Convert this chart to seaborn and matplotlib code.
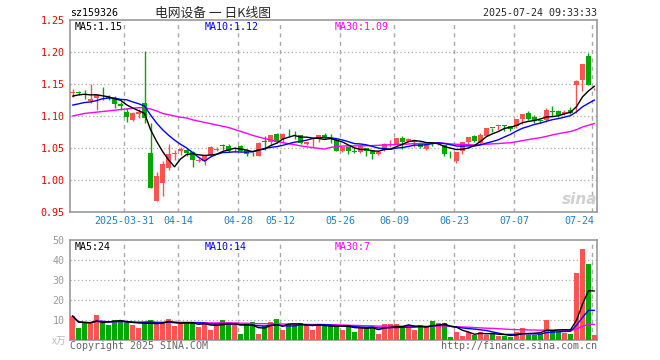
import numpy as np
import pandas as pd
import matplotlib
matplotlib.use('Agg')
import matplotlib.pyplot as plt
import seaborn as sns

# daily candles, 2025-03-18 .. 2025-07-24 (88 trading days)
opens = [1.136, 1.137, 1.135, 1.124, 1.128, 1.130, 1.130, 1.127, 1.118, 1.107,
         1.094, 1.103, 1.121, 1.042, 0.967, 0.996, 1.019, 1.040, 1.046, 1.047,
         1.044, 1.030, 1.029, 1.039, 1.047, 1.054, 1.053, 1.048, 1.053, 1.047,
         1.041, 1.038, 1.060, 1.059, 1.072, 1.064, 1.074, 1.074, 1.071, 1.056,
         1.064, 1.066, 1.070, 1.066, 1.062, 1.045, 1.051, 1.046, 1.043, 1.050,
         1.046, 1.040, 1.047, 1.055, 1.056, 1.066, 1.061, 1.060, 1.056, 1.049,
         1.058, 1.056, 1.055, 1.041, 1.029, 1.045, 1.059, 1.069, 1.058, 1.069,
         1.082, 1.084, 1.086, 1.085, 1.085, 1.095, 1.104, 1.099, 1.093, 1.094,
         1.108, 1.108, 1.103, 1.109, 1.148, 1.157, 1.193, 1.143]
highs = [1.142, 1.139, 1.141, 1.150, 1.135, 1.146, 1.133, 1.132, 1.122, 1.112,
         1.107, 1.111, 1.201, 1.089, 1.012, 1.029, 1.057, 1.047, 1.052, 1.050,
         1.045, 1.034, 1.038, 1.053, 1.052, 1.057, 1.057, 1.051, 1.054, 1.048,
         1.044, 1.059, 1.069, 1.071, 1.073, 1.074, 1.079, 1.076, 1.071, 1.060,
         1.066, 1.070, 1.074, 1.072, 1.064, 1.052, 1.051, 1.051, 1.056, 1.050,
         1.047, 1.045, 1.058, 1.063, 1.066, 1.068, 1.065, 1.064, 1.060, 1.056,
         1.059, 1.059, 1.055, 1.046, 1.044, 1.060, 1.067, 1.071, 1.073, 1.082,
         1.082, 1.086, 1.086, 1.085, 1.095, 1.103, 1.108, 1.101, 1.094, 1.112,
         1.115, 1.109, 1.109, 1.114, 1.156, 1.182, 1.199, 1.144]
lows = [1.130, 1.133, 1.126, 1.121, 1.110, 1.125, 1.125, 1.112, 1.109, 1.091,
        1.092, 1.097, 1.089, 0.987, 0.967, 0.975, 1.016, 1.032, 1.039, 1.037,
        1.020, 1.028, 1.024, 1.038, 1.045, 1.047, 1.044, 1.044, 1.045, 1.037,
        1.037, 1.037, 1.047, 1.055, 1.058, 1.058, 1.068, 1.064, 1.056, 1.055,
        1.052, 1.060, 1.064, 1.058, 1.045, 1.043, 1.041, 1.042, 1.042, 1.038,
        1.033, 1.039, 1.046, 1.052, 1.056, 1.048, 1.060, 1.052, 1.050, 1.047,
        1.053, 1.054, 1.037, 1.034, 1.026, 1.041, 1.056, 1.060, 1.055, 1.069,
        1.075, 1.078, 1.077, 1.076, 1.082, 1.087, 1.094, 1.089, 1.089, 1.091,
        1.100, 1.099, 1.102, 1.103, 1.104, 1.139, 1.148, 1.141]
closes = [1.137, 1.136, 1.133, 1.127, 1.133, 1.129, 1.128, 1.118, 1.115, 1.098,
          1.104, 1.107, 1.097, 0.988, 1.007, 1.025, 1.041, 1.042, 1.049, 1.042,
          1.032, 1.032, 1.037, 1.052, 1.048, 1.053, 1.046, 1.049, 1.046, 1.040,
          1.040, 1.058, 1.059, 1.071, 1.059, 1.072, 1.073, 1.073, 1.058, 1.059,
          1.065, 1.070, 1.065, 1.065, 1.046, 1.051, 1.046, 1.043, 1.053, 1.045,
          1.041, 1.043, 1.056, 1.056, 1.065, 1.059, 1.064, 1.063, 1.052, 1.054,
          1.057, 1.057, 1.041, 1.040, 1.043, 1.059, 1.067, 1.061, 1.071, 1.081,
          1.081, 1.085, 1.085, 1.080, 1.095, 1.103, 1.095, 1.092, 1.092, 1.110,
          1.106, 1.102, 1.107, 1.104, 1.154, 1.182, 1.149, 1.144]
volumes = [12.0, 6.0, 8.3, 8.3, 12.5, 8.7, 7.5, 10.0, 10.0, 9.2,
           7.5, 6.0, 9.2, 10.0, 8.3, 8.5, 10.5, 7.0, 8.3, 9.0,
           8.3, 6.7, 8.3, 5.2, 8.0, 10.0, 9.0, 8.0, 3.0, 8.0,
           8.8, 3.0, 7.0, 9.0, 10.5, 5.0, 8.0, 8.0, 8.5, 7.7,
           5.0, 8.0, 7.0, 7.0, 7.5, 5.0, 7.5, 4.0, 6.3, 6.3,
           6.3, 3.0, 8.0, 8.0, 8.0, 6.3, 7.5, 5.0, 7.5, 6.3,
           9.7, 8.3, 8.3, 1.7, 4.0, 2.0, 4.0, 2.7, 4.0, 2.7,
           3.0, 2.0, 2.0, 1.7, 4.0, 6.0, 2.5, 2.7, 3.0, 10.2,
           5.0, 4.2, 3.3, 2.8, 33.7, 45.5, 38.0, 2.5]

# moving-average values at the left edge (window reaches before the chart)
ma5_head = [1.131, 1.133, 1.134, 1.133]
ma10_head = [1.117, 1.119, 1.121, 1.122, 1.124, 1.127, 1.128, 1.128, 1.126]
ma30_head = [1.100, 1.102, 1.104, 1.105, 1.106, 1.107, 1.108, 1.109, 1.110, 1.111,
             1.112, 1.113, 1.113, 1.111, 1.108, 1.104, 1.102, 1.100, 1.098, 1.097,
             1.094, 1.092, 1.090, 1.088, 1.086, 1.084, 1.082, 1.079, 1.076]

tick_pos = [9, 18, 28, 35, 45, 54, 64, 74, 87]
tick_labels = ['2025-03-31', '04-14', '04-28', '05-12', '05-26', '06-09',
               '06-23', '07-07', '07-24']
price_ticks = [0.95, 1.00, 1.05, 1.10, 1.15, 1.20, 1.25]
vol_ticks = [10, 20, 30, 40, 50]
price_ma_text = ['MA5:1.15', 'MA10:1.12', 'MA30:1.09']
vol_ma_text = ['MA5:24', 'MA10:14', 'MA30:7']

RED = '#ff5252'
GREEN = '#00a800'
GRID = '#aaaaaa'
FRAME = '#999999'
MONO = 'DejaVu Sans Mono'

df = pd.DataFrame({'open': opens, 'high': highs, 'low': lows,
                   'close': closes, 'vol': volumes})
df['i'] = np.arange(len(df))
df['up'] = df['close'] >= df['open']

ma5 = df['close'].rolling(5).mean()
ma5[:len(ma5_head)] = ma5_head
ma10 = df['close'].rolling(10).mean()
ma10[:len(ma10_head)] = ma10_head
ma30 = df['close'].rolling(30).mean()
ma30[:len(ma30_head)] = ma30_head
vma5 = df['vol'].rolling(5, min_periods=1).mean()
vma10 = df['vol'].rolling(10, min_periods=1).mean()
vma30 = df['vol'].rolling(30, min_periods=1).mean()

sns.set_style('white')
plt.rcParams['font.family'] = [MONO, 'Noto Sans CJK SC']

fig = plt.figure(figsize=(6.6, 3.6), dpi=100)
ax1 = fig.add_axes([70 / 660, 1 - 212 / 360, 527 / 660, 192 / 360])
ax2 = fig.add_axes([70 / 660, 1 - 340 / 360, 527 / 660, 100 / 360])
xlim = (-0.42, 87.42)

# candles
cols = np.where(df['up'], RED, GREEN)
ax1.vlines(df['i'], df['low'], df['high'], colors=cols, lw=1, zorder=3)
body_lo = np.minimum(df['open'], df['close'])
body_h = np.maximum(np.abs(df['close'] - df['open']), 0.0012)
ax1.bar(df['i'], body_h, bottom=body_lo, width=0.8, color=cols, lw=0, zorder=4)

sns.lineplot(x=df['i'], y=ma30, ax=ax1, color='#ff00ff', lw=1, zorder=5)
sns.lineplot(x=df['i'], y=ma10, ax=ax1, color='#0000ff', lw=1, zorder=5)
sns.lineplot(x=df['i'], y=ma5, ax=ax1, color='black', lw=1, zorder=6)

ax1.set_xlim(*xlim)
ax1.set_ylim(0.95, 1.25)
for p in price_ticks[1:-1]:
    ax1.axhline(p, color=GRID, lw=0.9, ls=(0, (1, 2)), zorder=1)
ax1.set_yticks(price_ticks)
ax1.set_yticklabels(['%.2f' % p for p in price_ticks], color='#ee0000',
                    fontsize=7.2, family=MONO)

# volume
ax2.bar(df['i'], df['vol'], width=0.82, color=cols, lw=0, zorder=3)
sns.lineplot(x=df['i'], y=vma30, ax=ax2, color='#ff00ff', lw=1, zorder=5)
sns.lineplot(x=df['i'], y=vma10, ax=ax2, color='#0000ff', lw=1, zorder=5)
sns.lineplot(x=df['i'], y=vma5, ax=ax2, color='black', lw=1, zorder=6)
ax2.set_xlim(*xlim)
ax2.set_ylim(0, 50)
for v in vol_ticks[:-1]:
    ax2.axhline(v, color=GRID, lw=0.9, ls=(0, (1, 2)), zorder=1)
ax2.set_yticks(vol_ticks)
ax2.set_yticklabels([str(v) for v in vol_ticks], color='#999999',
                    fontsize=7.2, family=MONO)

for ax in (ax1, ax2):
    for t in tick_pos[:-1]:
        ax.axvline(t - 0.35, color=GRID, lw=1, ls=(0, (3, 3)), zorder=1)
    ax.axvline(tick_pos[-1] - 0.35, color=GRID, lw=1, ls=(0, (3, 3)), zorder=1)
    ax.set_xticks([])
    ax.set_xlabel('')
    ax.set_ylabel('')
    ax.tick_params(axis='y', length=0, pad=4)
    for s in ax.spines.values():
        s.set_color(FRAME)
        s.set_linewidth(1.2)

# date labels
for t, lab in zip(tick_pos, tick_labels):
    ha = 'right' if t == tick_pos[-1] else 'center'
    x = t - 0.1 if ha == 'right' else t - 0.35
    ax1.text(x, -0.045, lab, transform=ax1.get_xaxis_transform(), ha=ha,
             va='center', color='#1a80d0', fontsize=7.2, family=MONO)

# MA legends
lab_x = [75, 205, 335]
lab_c = ['black', '#0000ff', '#ff00ff']
for x, txt, c in zip(lab_x, price_ma_text, lab_c):
    fig.text(x / 660, 1 - 27 / 360, txt, color=c, fontsize=7.2, family=MONO,
             va='center')
for x, txt, c in zip(lab_x, vol_ma_text, lab_c):
    fig.text(x / 660, 1 - 247 / 360, txt, color=c, fontsize=7.2, family=MONO,
             va='center')

# header and footer
fig.text(70 / 660, 1 - 13 / 360, 'sz159326', fontsize=7.2, family=MONO,
         va='center', color='black')
fig.text(213 / 660, 1 - 13 / 360, '电网设备 一 日K线图', fontsize=9.2,
         family=['Noto Sans CJK SC', 'DejaVu Sans'], ha='center', va='center')
fig.text(597 / 660, 1 - 13 / 360, '2025-07-24 09:33:33', fontsize=7.2,
         family=MONO, ha='right', va='center')
fig.text(70 / 660, 1 - 346 / 360, 'Copyright 2025 SINA.COM', fontsize=7.2,
         family=MONO, va='center', color='#666666')
fig.text(597 / 660, 1 - 346 / 360, 'http://finance.sina.com.cn', fontsize=7.2,
         family=MONO, ha='right', va='center', color='#666666')
fig.text(66 / 660, 1 - 341 / 360, 'x万', fontsize=7, ha='right', va='center',
         family=['Noto Sans CJK SC', 'DejaVu Sans'], color='#bbbbbb')
fig.text(580 / 660, 1 - 199 / 360, 'sina', fontsize=11, ha='center',
         va='center', family='DejaVu Sans', style='italic', weight='bold',
         color='#d0d0d0')

fig.savefig('out.png', dpi=100)
